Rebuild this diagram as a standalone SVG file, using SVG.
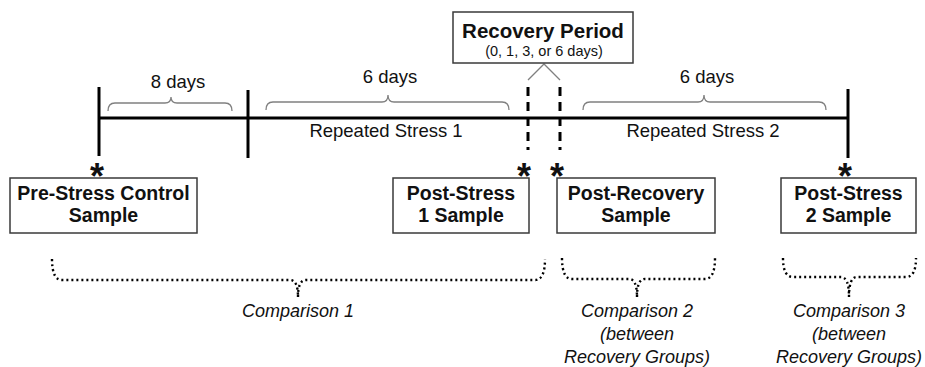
<svg xmlns="http://www.w3.org/2000/svg" width="925" height="367" viewBox="0 0 925 367">
<style>
text{font-family:"Liberation Sans",Arial,sans-serif;fill:#111}
.b{font-weight:bold;font-size:19.5px;text-anchor:middle}
.t{font-size:18.5px;text-anchor:middle}
.c{font-size:18px;font-style:italic;text-anchor:middle}
.ast{font-weight:bold;font-size:36px;text-anchor:middle}
.box{fill:#fff;stroke:#3a3a3a;stroke-width:1.5}
.tl{stroke:#000;stroke-width:3;fill:none}
.dash{stroke:#000;stroke-width:3;stroke-dasharray:9,6;fill:none}
.brace{stroke:#808080;stroke-width:1.3;fill:none}
.dot{stroke:#000;stroke-width:2.4;stroke-dasharray:2,3;fill:none}
</style>
<rect width="925" height="367" fill="#fff"/>
<g id="connectors">
<line class="tl" x1="99" y1="118" x2="848" y2="118"/>
<line class="tl" x1="99" y1="87" x2="99" y2="156"/>
<line class="tl" x1="248" y1="90" x2="248" y2="158"/>
<line class="tl" x1="848" y1="89" x2="848" y2="158"/>
<line class="dash" x1="528" y1="87" x2="528" y2="150"/>
<line class="dash" x1="560" y1="87" x2="560" y2="150"/>
<polyline class="brace" points="528,80 544,64 560,80"/>
<path class="brace" d="M108,111 Q108,103 115,103 L165,103 Q171,103 171,97 Q171,103 177,103 L225,103 Q232,103 232,111"/>
<path class="brace" d="M266,110 Q266,102 273,102 L382,102 Q388,102 388,95 Q388,102 394,102 L502,102 Q509,102 509,110"/>
<path class="brace" d="M583,110 Q583,102 590,102 L698,102 Q704,102 704,95 Q704,102 710,102 L819,102 Q826,102 826,110"/>
<path class="dot" d="M52,259 Q52,280 62,280 L290,280 Q298,280 298,297 M298,297 Q298,280 306,280 L535,280 Q545,280 545,259"/>
<path class="dot" d="M562,258 Q562,279 572,279 L629,279 Q637,279 637,297 M637,297 Q637,279 645,279 L705,279 Q715,279 715,258"/>
<path class="dot" d="M783,258 Q783,277 793,277 L841,277 Q849,277 849,297 M849,297 Q849,277 857,277 L906,277 Q916,277 916,258"/>
</g>
<g id="labels">
<text class="t" x="178" y="88">8 days</text>
<text class="t" x="390" y="83">6 days</text>
<text class="t" x="707" y="83">6 days</text>
<text class="t" x="386" y="137">Repeated Stress 1</text>
<text class="t" x="703" y="137">Repeated Stress 2</text>
<text class="ast" x="97" y="189">*</text>
<text class="ast" x="524" y="189">*</text>
<text class="ast" x="557" y="189">*</text>
<text class="ast" x="845" y="189">*</text>
</g>
<g id="recovery-period">
<rect class="box" x="453" y="12" width="180" height="51"/>
<text x="543" y="38" style="font-weight:bold;font-size:20.5px;text-anchor:middle">Recovery Period</text>
<text x="544" y="56" style="font-size:14.5px;text-anchor:middle">(0, 1, 3, or 6 days)</text>
</g>
<g id="pre-stress">
<rect class="box" x="10" y="178" width="187" height="55"/>
<text class="b" x="103.5" y="200">Pre-Stress Control</text>
<text class="b" x="103.5" y="222">Sample</text>
</g>
<g id="post-stress-1">
<rect class="box" x="393" y="178" width="136" height="55"/>
<text class="b" x="461" y="200">Post-Stress</text>
<text class="b" x="461" y="222">1 Sample</text>
</g>
<g id="post-recovery">
<rect class="box" x="557" y="178" width="158" height="55"/>
<text class="b" x="636" y="200">Post-Recovery</text>
<text class="b" x="636" y="222">Sample</text>
</g>
<g id="post-stress-2">
<rect class="box" x="781" y="178" width="135" height="55"/>
<text class="b" x="848.5" y="200">Post-Stress</text>
<text class="b" x="848.5" y="222">2 Sample</text>
</g>
<g id="comparison-1">
<text class="c" x="298" y="317">Comparison 1</text>
</g>
<g id="comparison-2">
<text class="c" x="637" y="317">Comparison 2</text>
<text class="c" x="637" y="340">(between</text>
<text class="c" x="637" y="363">Recovery Groups)</text>
</g>
<g id="comparison-3">
<text class="c" x="849" y="317">Comparison 3</text>
<text class="c" x="849" y="340">(between</text>
<text class="c" x="849" y="363">Recovery Groups)</text>
</g>
</svg>
